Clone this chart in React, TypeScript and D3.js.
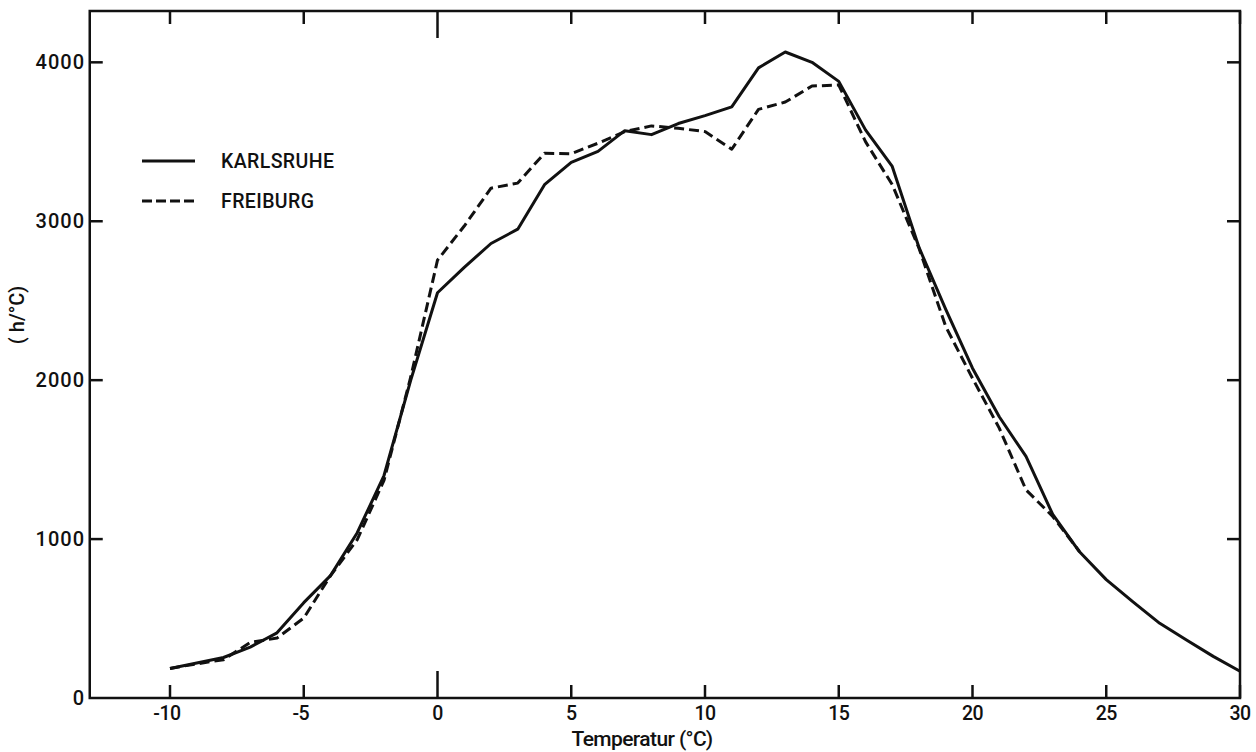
import React from "react";
import * as d3 from "d3";

const temps: number[] = d3.range(-10, 31);
const karlsruhe: number[] = [
  186, 220, 255, 320, 410, 600, 770, 1040, 1400, 2000,
  2550, 2710, 2860, 2950, 3230, 3370, 3440, 3570, 3545, 3615,
  3665, 3720, 3965, 4065, 4000, 3880, 3575, 3345, 2835, 2445,
  2075, 1770, 1520, 1155, 920, 745, 605, 470, 365, 262, 168,
];
const freiburgTemps: number[] = d3.range(-10, 25);
const freiburg: number[] = [
  186, 215, 241, 350, 377, 503, 770, 996, 1370, 2020,
  2755, 2970, 3208, 3240, 3428, 3425, 3491, 3564, 3600, 3585,
  3564, 3453, 3704, 3750, 3851, 3857, 3501, 3230, 2830, 2337,
  2012, 1698, 1310, 1142, 922,
];
const xTicks: number[] = [-10, -5, 0, 5, 10, 15, 20, 25, 30];
const yTicks: number[] = [0, 1000, 2000, 3000, 4000];
const seriesNames: string[] = ["KARLSRUHE", "FREIBURG"];

const W = 1256;
const H = 752;
const left = 89.75;
const right = 1240;
const top = 11;
const bottom = 698;

export default function App() {
  const x = d3.scaleLinear().domain([-13, 30]).range([left, right]);
  const y = d3.scaleLinear().domain([0, 4323]).range([bottom, top]);
  const line = d3
    .line<[number, number]>()
    .x((d) => x(d[0]))
    .y((d) => y(d[1]));
  const kData: [number, number][] = temps.map((t, i) => [t, karlsruhe[i]]);
  const fData: [number, number][] = freiburgTemps.map((t, i) => [t, freiburg[i]]);
  const font = "Roboto, 'Liberation Sans', Arial, sans-serif";
  const ink = "#111";

  return (
    <svg
      width={W}
      height={H}
      style={{ position: "absolute", left: 0, top: 0, background: "#fff" }}
    >
      <rect x={0} y={0} width={W} height={H} fill="#fff" />
      <rect
        x={left}
        y={top}
        width={right - left}
        height={bottom - top}
        fill="none"
        stroke={ink}
        strokeWidth={2.5}
      />
      {xTicks.map((t) => {
        const len = t === 0 ? 27 : 13;
        return (
          <g key={"xt" + t}>
            <line x1={x(t)} x2={x(t)} y1={bottom} y2={bottom - len} stroke={ink} strokeWidth={2.5} />
            <line x1={x(t)} x2={x(t)} y1={top} y2={top + len} stroke={ink} strokeWidth={2.5} />
            <text
              x={x(t) - (t < 0 ? 3 : 0)}
              y={720}
              textAnchor="middle"
              fontFamily={font}
              fontWeight={500}
              fontSize={19.5}
              letterSpacing={-0.5}
              fill={ink}
            >
              {t}
            </text>
          </g>
        );
      })}
      {yTicks.map((v) => (
        <g key={"yt" + v}>
          {v > 0 && (
            <>
              <line x1={left} x2={left + 13} y1={y(v)} y2={y(v)} stroke={ink} strokeWidth={2.5} />
              <line x1={right} x2={right - 13} y1={y(v)} y2={y(v)} stroke={ink} strokeWidth={2.5} />
            </>
          )}
          <text
            x={85}
            y={y(v) + 7}
            textAnchor="end"
            fontFamily={font}
            fontWeight={500}
            fontSize={20}
            letterSpacing={1}
            fill={ink}
          >
            {v}
          </text>
        </g>
      ))}
      <text
        x={642}
        y={746}
        textAnchor="middle"
        fontFamily={font}
        fontWeight={500}
        fontSize={21}
        letterSpacing={-0.6}
        fill={ink}
      >
        Temperatur (°C)
      </text>
      <text
        transform={`translate(24,315) rotate(-90)`}
        textAnchor="middle"
        fontFamily={font}
        fontWeight={500}
        fontSize={20}
        fill={ink}
      >
        ( h/°C)
      </text>
      <path d={line(kData) || ""} fill="none" stroke={ink} strokeWidth={3} strokeLinejoin="round" />
      <path
        d={line(fData) || ""}
        fill="none"
        stroke={ink}
        strokeWidth={3}
        strokeDasharray="10 5"
        strokeLinejoin="round"
      />
      <line x1={142} x2={195} y1={161} y2={161} stroke={ink} strokeWidth={3} />
      <text x={221} y={168} fontFamily={font} fontWeight={500} fontSize={19.5} letterSpacing={0.4} fill={ink}>
        {seriesNames[0]}
      </text>
      <line x1={142} x2={195} y1={201} y2={201} stroke={ink} strokeWidth={3} strokeDasharray="10 4" />
      <text x={221} y={208} fontFamily={font} fontWeight={500} fontSize={19.5} letterSpacing={0.4} fill={ink}>
        {seriesNames[1]}
      </text>
    </svg>
  );
}
